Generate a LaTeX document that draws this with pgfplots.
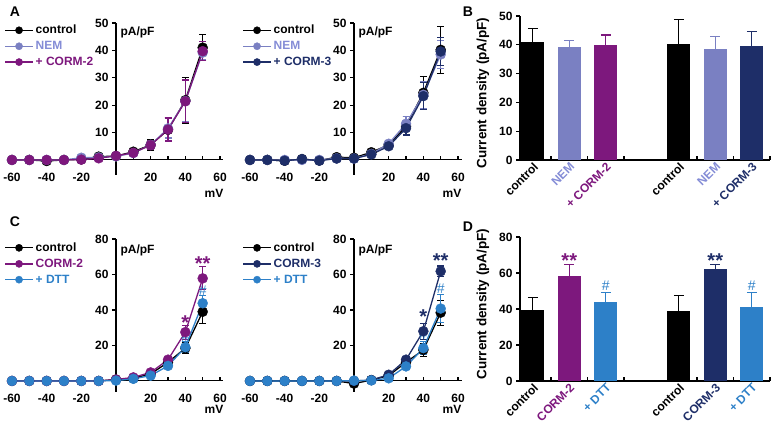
\documentclass[border=0pt]{standalone}
\usepackage{fontspec}
\setmainfont{Liberation Sans}
\usepackage{pgfplots}
\pgfplotsset{compat=1.18}

\definecolor{nem}{RGB}{122,128,194}
\definecolor{nemtxt}{RGB}{132,140,214}
\definecolor{cormtwo}{RGB}{125,24,125}
\definecolor{cormthree}{RGB}{30,46,104}
\definecolor{dtt}{RGB}{45,128,200}

\newcommand{\fnt}{\fontsize{12}{13}\selectfont\bfseries}

\pgfplotsset{
  iv/.style={
    scale only axis, width=215pt, anchor=south west,
    axis lines=middle, axis line style={line width=1.1pt,-},
    xmin=-62, xmax=62,
    xtick={-60,-40,-20,20,40,60},
    minor xtick={-50,-30,-10,0,10,30,50},
    tick style={line width=1.1pt, black},
    major tick length=4pt, minor tick length=4pt,
    xtick align=inside, ytick align=outside,
    tick label style={font=\fnt},
    xticklabel style={yshift=-10pt},
    /pgf/number format/assume math mode=true,
    clip=false,
    legend style={draw=none, fill=none, anchor=north west, font=\fnt,
      row sep=2pt, inner sep=0pt},
    legend cell align=left,
    legend image code/.code={
      \draw[#1] (0pt,0pt) -- (28pt,0pt);
      \draw[#1, mark size=3.6pt] plot coordinates {(14pt,0pt)};
    },
  },
  ivplot/.style={color=#1, line width=1.3pt, mark=*, mark size=5pt,
    mark options={solid, fill=#1, draw=#1, line width=0.4pt},
    error bars/.cd, y dir=both, y explicit,
    error bar style={line width=1.1pt, color=#1},
    error mark options={rotate=90, mark size=3.5pt, line width=1.1pt, color=#1}},
  bars/.style={
    scale only axis, width=250pt, height=144pt, anchor=south west,
    axis lines*=left, axis line style={line width=1.1pt},
    xmin=-0.35, xmax=6.5, ymin=0,
    xtick={0,1,2,4,5,6}, major x tick style={draw=none},
    minor xtick={0.5,1.5,2.5,4.5,5.5,6.5},
    tick style={line width=1.1pt, black},
    major tick length=4pt, minor tick length=4pt,
    xtick align=inside, ytick align=outside,
    tick label style={font=\fnt},
    /pgf/number format/assume math mode=true,
    xticklabel style={rotate=45, anchor=north east, inner sep=1pt},
    clip=false,
  },
  barplot/.style={ybar, bar width=23pt, fill=#1, draw=none,
    error bars/.cd, y dir=plus, y explicit,
    error bar style={line width=1.1pt, color=#1},
    error mark options={rotate=90, mark size=5pt, line width=1.1pt, color=#1}},
}

\begin{document}
\begin{tikzpicture}
\useasboundingbox (0,0) rectangle (772pt,427pt);

% panel letters and bar y labels
\node[font=\fontsize{14}{14}\selectfont\bfseries] at (15pt,415pt) {A};
\node[font=\fontsize{14}{14}\selectfont\bfseries] at (468pt,415pt) {B};
\node[font=\fontsize{14}{14}\selectfont\bfseries] at (15pt,205pt) {C};
\node[font=\fontsize{14}{14}\selectfont\bfseries] at (468pt,200pt) {D};
\node[rotate=90, font=\fontsize{13.5}{14}\selectfont\bfseries] at (483pt,334pt) {Current density (pA/pF)};
\node[rotate=90, font=\fontsize{13.5}{14}\selectfont\bfseries] at (483pt,123pt) {Current density (pA/pF)};

% ---------- A left
\begin{axis}[iv, at={(8.5pt,252pt)}, height=152pt, ymin=-5.5, ymax=50,
  ytick={10,20,30,40,50},
  legend style={at={(rel axis cs:-0.02,1.0)}}]
\addplot+[ivplot=black] table[x=v, y=i, y error=e] {
v i e
-60 0 0
-50 0 0
-40 -0.4 0.3
-30 0 0
-20 0.2 0.3
-10 1.2 0.5
0 1.4 0.5
10 3.0 1.0
20 5.5 2.0
30 11.0 4.3
40 21.8 8.3
50 41.0 4.7
};
\addlegendentry{control}
\addplot+[ivplot=nem] table[x=v, y=i, y error=e] {
v i e
-60 0 0
-50 0 0
-40 0 0
-30 0 0
-20 0.8 0.4
-10 0.9 0.4
0 1.3 0.4
10 2.5 0.7
20 5.5 1.5
30 11.5 3.5
40 21.5 7.5
50 39.2 2.5
};
\addlegendentry{\textcolor{nemtxt}{NEM}}
\addplot+[ivplot=cormtwo] table[x=v, y=i, y error=e] {
v i e
-60 0 0
-50 0 0
-40 0 0
-30 0 0
-20 0.1 0.2
-10 0.6 0.3
0 1.5 0.4
10 2.6 0.8
20 5.4 1.5
30 11.1 4.2
40 21.4 7.8
50 39.7 3.5
};
\addlegendentry{\textcolor{cormtwo}{+ CORM-2}}
\node[anchor=north west, font=\fnt, inner sep=0pt] at (axis cs:2.5,48.5) {pA/pF};
\node[anchor=north east, font=\fnt, inner sep=0pt] at (axis cs:62,-10.5) {mV};
\end{axis}

% ---------- A right
\begin{axis}[iv, at={(246.5pt,252pt)}, height=152pt, ymin=-5.5, ymax=50,
  ytick={10,20,30,40,50},
  legend style={at={(rel axis cs:-0.02,1.0)}}]
\addplot+[ivplot=black] table[x=v, y=i, y error=e] {
v i e
-60 0 0
-50 0 0
-40 -0.3 0.3
-30 0.3 0.3
-20 -0.2 0.3
-10 1.0 0.4
0 0.8 0.4
10 2.8 0.6
20 5.5 1.0
30 12.3 3.5
40 24.5 6.0
50 40.2 8.5
};
\addlegendentry{control}
\addplot+[ivplot=nem] table[x=v, y=i, y error=e] {
v i e
-60 0 0
-50 0 0
-40 0 0
-30 0 0
-20 0 0
-10 0.6 0.3
0 0.5 0.3
10 2.2 0.5
20 5.9 1.0
30 13.2 2.5
40 23.8 5.0
50 38.5 5.2
};
\addlegendentry{\textcolor{nemtxt}{NEM}}
\addplot+[ivplot=cormthree] table[x=v, y=i, y error=e] {
v i e
-60 0 0
-50 0 0
-40 -0.3 0.2
-30 0.3 0.2
-20 -0.3 0.2
-10 0.5 0.3
0 0.5 0.3
10 2.0 0.5
20 5.0 0.8
30 11.6 2.5
40 23.3 5.0
50 39.6 5.0
};
\addlegendentry{\textcolor{cormthree}{+ CORM-3}}
\node[anchor=north west, font=\fnt, inner sep=0pt] at (axis cs:2.5,48.5) {pA/pF};
\node[anchor=north east, font=\fnt, inner sep=0pt] at (axis cs:62,-10.5) {mV};
\end{axis}

% ---------- B
\begin{axis}[bars, at={(520pt,267pt)}, ymax=50, ytick={0,10,20,30,40,50},
  xticklabels={control, \textcolor{nemtxt}{NEM}, \textcolor{cormtwo}{+ CORM-2},
    control, \textcolor{nemtxt}{NEM}, \textcolor{cormthree}{+ CORM-3}}]
\addplot[barplot=black] coordinates {(0,41.0) +- (0,4.7)};
\addplot[barplot=nem] coordinates {(1,39.4) +- (0,2.1)};
\addplot[barplot=cormtwo] coordinates {(2,39.9) +- (0,3.5)};
\addplot[barplot=black] coordinates {(4,40.2) +- (0,8.5)};
\addplot[barplot=nem] coordinates {(5,38.4) +- (0,4.6)};
\addplot[barplot=cormthree] coordinates {(6,39.6) +- (0,5.0)};
\end{axis}

% ---------- C left
\begin{axis}[iv, at={(8.5pt,35.4pt)}, height=152.6pt, ymin=-6, ymax=80,
  ytick={20,40,60,80},
  legend style={at={(rel axis cs:-0.02,0.99)}}]
\addplot+[ivplot=black] table[x=v, y=i, y error=e] {
v i e
-60 0 0
-50 0 0
-40 0 0
-30 0 0
-20 0 0
-10 0 0
0 0.8 0.4
10 1.5 0.5
20 4.0 1.0
30 10.5 2.0
40 18.5 3.0
50 39.0 6.5
};
\addlegendentry{control}
\addplot+[ivplot=cormtwo] table[x=v, y=i, y error=e] {
v i e
-60 0 0
-50 0 0
-40 0 0
-30 0 0
-20 0 0
-10 0 0
0 0.8 0.4
10 2.0 0.5
20 4.8 1.0
30 12.0 1.5
40 27.5 4.0
50 57.8 6.5
};
\addlegendentry{\textcolor{cormtwo}{CORM-2}}
\addplot+[ivplot=dtt] table[x=v, y=i, y error=e] {
v i e
-60 0 0
-50 0 0
-40 0 0
-30 0 0
-20 0 0
-10 0 0
0 0.2 0.3
10 1.2 0.4
20 3.0 0.8
30 8.5 1.5
40 19.0 3.0
50 43.8 4.5
};
\addlegendentry{\textcolor{dtt}{+ DTT}}
\node[text=cormtwo, font=\fontsize{20}{20}\selectfont\bfseries] at (axis cs:40,33) {*};
\node[text=cormtwo, font=\fontsize{20}{20}\selectfont\bfseries] at (axis cs:50,66) {**};
\node[text=dtt, font=\fontsize{14}{14}\selectfont] at (axis cs:50,51) {\#};
\node[text=dtt, font=\fontsize{14}{14}\selectfont] at (axis cs:40,25) {\#};
\node[anchor=north west, font=\fnt, inner sep=0pt] at (axis cs:2.5,77) {pA/pF};
\node[anchor=north east, font=\fnt, inner sep=0pt] at (axis cs:62,-13.5) {mV};
\end{axis}

% ---------- C right
\begin{axis}[iv, at={(246.5pt,35.4pt)}, height=152.6pt, ymin=-6, ymax=80,
  ytick={20,40,60,80},
  legend style={at={(rel axis cs:-0.02,0.99)}}]
\addplot+[ivplot=black] table[x=v, y=i, y error=e] {
v i e
-60 0 0
-50 0 0
-40 0 0
-30 0 0
-20 0 0
-10 0 0
0 -1.5 1.0
10 0.5 0.4
20 3.0 0.8
30 10.5 1.5
40 17.5 3.5
50 38.5 7.0
};
\addlegendentry{control}
\addplot+[ivplot=cormthree] table[x=v, y=i, y error=e] {
v i e
-60 0 0
-50 0 0
-40 0 0
-30 0 0
-20 0 0
-10 0 0
0 0 0.3
10 0.5 0.4
20 3.5 0.8
30 12.0 1.5
40 28.0 4.5
50 61.8 3.0
};
\addlegendentry{\textcolor{cormthree}{CORM-3}}
\addplot+[ivplot=dtt] table[x=v, y=i, y error=e] {
v i e
-60 0 0
-50 0 0
-40 0 0
-30 0 0
-20 0 0
-10 0 0
0 0.2 0.3
10 0.3 0.3
20 1.5 0.8
30 8.2 2.0
40 18.5 3.5
50 40.8 8.0
};
\addlegendentry{\textcolor{dtt}{+ DTT}}
\node[text=cormthree, font=\fontsize{20}{20}\selectfont\bfseries] at (axis cs:40,36) {*};
\node[text=cormthree, font=\fontsize{20}{20}\selectfont\bfseries] at (axis cs:50,68) {**};
\node[text=dtt, font=\fontsize{14}{14}\selectfont] at (axis cs:50,52) {\#};
\node[text=dtt, font=\fontsize{14}{14}\selectfont] at (axis cs:40,26) {\#};
\node[anchor=north west, font=\fnt, inner sep=0pt] at (axis cs:2.5,77) {pA/pF};
\node[anchor=north east, font=\fnt, inner sep=0pt] at (axis cs:62,-13.5) {mV};
\end{axis}

% ---------- D
\begin{axis}[bars, at={(520pt,46pt)}, ymax=80, ytick={0,20,40,60,80},
  xticklabels={control, \textcolor{cormtwo}{CORM-2}, \textcolor{dtt}{+ DTT},
    control, \textcolor{cormthree}{CORM-3}, \textcolor{dtt}{+ DTT}}]
\addplot[barplot=black] coordinates {(0,39.6) +- (0,6.7)};
\addplot[barplot=cormtwo] coordinates {(1,58.2) +- (0,6.7)};
\addplot[barplot=dtt] coordinates {(2,43.9) +- (0,5.4)};
\addplot[barplot=black] coordinates {(4,39.1) +- (0,8.5)};
\addplot[barplot=cormthree] coordinates {(5,62.0) +- (0,2.9)};
\addplot[barplot=dtt] coordinates {(6,40.9) +- (0,8.4)};
\node[text=cormtwo, font=\fontsize{20}{20}\selectfont\bfseries] at (axis cs:1,67) {**};
\node[text=cormthree, font=\fontsize{20}{20}\selectfont\bfseries] at (axis cs:5,67) {**};
\node[text=dtt, font=\fontsize{14}{14}\selectfont] at (axis cs:2,53) {\#};
\node[text=dtt, font=\fontsize{14}{14}\selectfont] at (axis cs:6,53) {\#};
\end{axis}
\end{tikzpicture}
\end{document}
